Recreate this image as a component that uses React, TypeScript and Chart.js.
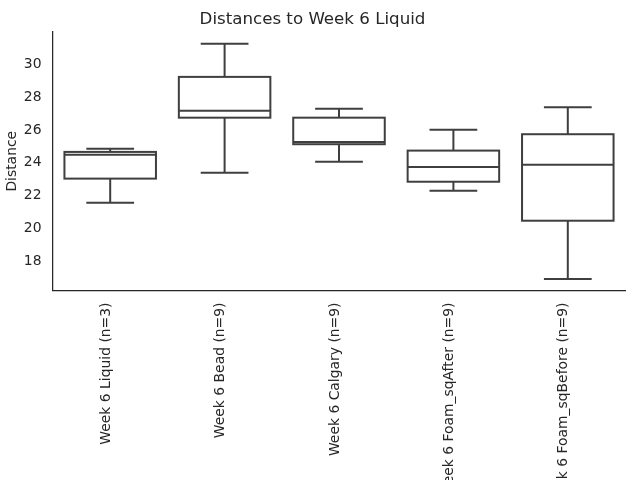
import React, { useEffect, useRef } from "react";
import { Chart, registerables } from "chart.js";

Chart.register(...registerables);

const categories = [
  "Week 6 Liquid (n=3)",
  "Week 6 Bead (n=9)",
  "Week 6 Calgary (n=9)",
  "Week 6 Foam_sqAfter (n=9)",
  "Week 6 Foam_sqBefore (n=9)",
];
const whiskerLow = [21.56, 23.39, 24.06, 22.29, 16.9];
const q1 = [23.03, 26.75, 25.13, 22.84, 20.46];
const median = [24.49, 27.18, 25.27, 23.74, 23.88];
const q3 = [24.66, 29.24, 26.75, 24.74, 25.74];
const whiskerHigh = [24.86, 31.27, 27.3, 26.02, 27.39];
const yTicks = [18, 20, 22, 24, 26, 28, 30];

const LINE = "#3f3f3f";
const TEXT = "#262626";
const FONT = "DejaVu Sans";

const boxPlugin = {
  id: "boxParts",
  afterDatasetsDraw(chart: any) {
    const { ctx } = chart;
    const y = chart.scales.y;
    const meta = chart.getDatasetMeta(0);
    ctx.save();
    ctx.strokeStyle = LINE;
    ctx.lineWidth = 2;
    meta.data.forEach((bar: any, i: number) => {
      const { x: cx, width } = bar.getProps(["x", "width"], true);
      const half = width / 2;
      const cap = width / 4;
      const yLo = y.getPixelForValue(whiskerLow[i]);
      const yHi = y.getPixelForValue(whiskerHigh[i]);
      const yQ1 = y.getPixelForValue(q1[i]);
      const yQ3 = y.getPixelForValue(q3[i]);
      const yMed = y.getPixelForValue(median[i]);
      // stems
      ctx.lineCap = "butt";
      ctx.beginPath();
      ctx.moveTo(cx, yQ3);
      ctx.lineTo(cx, yHi);
      ctx.moveTo(cx, yQ1);
      ctx.lineTo(cx, yLo);
      ctx.stroke();
      // caps
      ctx.lineCap = "square";
      ctx.beginPath();
      ctx.moveTo(cx - cap, yHi);
      ctx.lineTo(cx + cap, yHi);
      ctx.moveTo(cx - cap, yLo);
      ctx.lineTo(cx + cap, yLo);
      ctx.stroke();
      // box
      ctx.lineJoin = "miter";
      ctx.strokeRect(cx - half, yQ3, width, yQ1 - yQ3);
      // median
      ctx.lineCap = "butt";
      ctx.beginPath();
      ctx.moveTo(cx - half, yMed);
      ctx.lineTo(cx + half, yMed);
      ctx.stroke();
    });
    ctx.restore();
  },
};

export default function App() {
  const ref = useRef<HTMLCanvasElement | null>(null);
  useEffect(() => {
    document.body.style.margin = "0";
    const canvas = ref.current;
    if (!canvas) return;
    Chart.defaults.font.family = FONT;
    Chart.defaults.color = TEXT;
    const chart = new Chart(canvas, {
      type: "bar",
      data: {
        labels: categories,
        datasets: [
          {
            data: categories.map((_, i) => [q1[i], q3[i]]) as any,
            backgroundColor: "#ffffff",
            borderWidth: 0,
            barPercentage: 0.8,
            categoryPercentage: 1,
          },
        ],
      },
      options: {
        animation: false,
        responsive: false,
        layout: { padding: { right: 15, left: 0, top: 0, bottom: 0 } },
        plugins: {
          legend: { display: false },
          tooltip: { enabled: false },
          title: {
            display: true,
            text: "Distances to Week 6 Liquid",
            color: TEXT,
            font: { family: FONT, size: 16.67, weight: "normal" },
            padding: { top: 10, bottom: 2 },
          },
        },
        scales: {
          x: {
            type: "category",
            offset: true,
            grid: { display: false, drawTicks: false },
            border: { display: true, color: TEXT, width: 1.25 },
            ticks: {
              autoSkip: false,
              maxRotation: 90,
              minRotation: 90,
              padding: 12,
              labelOffset: -4,
              color: TEXT,
              font: { family: FONT, size: 13.9 },
            },
            afterFit: (s: any) => {
              s.height = 189.5;
            },
          },
          y: {
            type: "linear",
            min: 16.2,
            max: 31.98,
            grid: { display: false, drawTicks: false },
            border: { display: true, color: TEXT, width: 1.25 },
            ticks: {
              padding: 11.5,
              color: TEXT,
              font: { family: FONT, size: 13.9 },
            },
            afterBuildTicks: (s: any) => {
              s.ticks = yTicks.map((v) => ({ value: v }));
            },
            afterFit: (s: any) => {
              s.width = 53;
            },
            title: {
              display: true,
              text: "Distance",
              color: TEXT,
              font: { family: FONT, size: 13.9 },
              padding: { top: 4, bottom: 0 },
            },
          },
        },
      },
      plugins: [boxPlugin],
    });
    return () => chart.destroy();
  }, []);
  return (
    <div style={{ position: "absolute", left: 0, top: 0, width: 640, height: 480 }}>
      <canvas ref={ref} width={640} height={480} />
    </div>
  );
}
